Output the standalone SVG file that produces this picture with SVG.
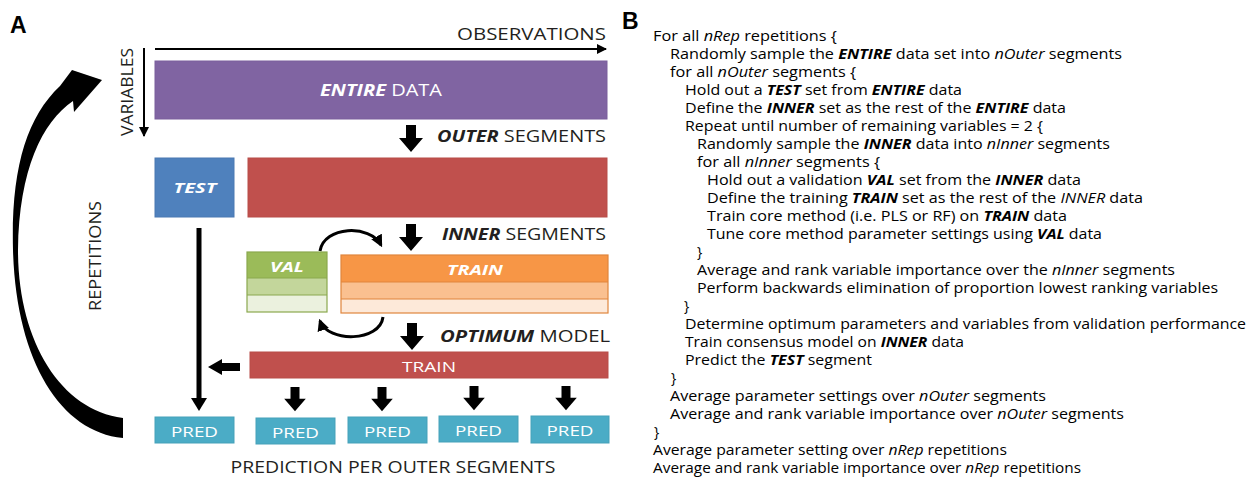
<svg xmlns="http://www.w3.org/2000/svg" width="1248" height="477" viewBox="0 0 1248 477">
<defs>
<style>
.lbl{font-family:"Open Sans","DejaVu Sans",sans-serif;fill:#231f20;}
.w{fill:#ffffff;}
.bi{font-weight:bold;font-style:italic;}
.i{font-style:italic;}
.code{font-family:"Open Sans","DejaVu Sans",sans-serif;font-size:14px;fill:#000;}
.panel{font-family:"Liberation Sans",Arial,sans-serif;font-weight:bold;font-size:23px;fill:#000;}
.thin{stroke:#000;stroke-width:2;fill:none;}
.curve{stroke:#000;stroke-width:3;fill:none;}
.blk{fill:#000;}
</style>
<marker id="ah" viewBox="0 0 10 10" refX="9" refY="5" markerWidth="5" markerHeight="5" orient="auto" markerUnits="strokeWidth">
<path d="M0,0 L10,5 L0,10 Z" fill="#000"/>
</marker>
<marker id="ah2" viewBox="0 0 10 10" refX="8" refY="5" markerWidth="4" markerHeight="4" orient="auto" markerUnits="strokeWidth">
<path d="M0,0 L10,5 L0,10 Z" fill="#000"/>
</marker>
<path id="down" d="M-5,0 H5 V13 H12 L0,27 L-12,13 H-5 Z"/>
</defs>
<rect width="1248" height="477" fill="#fff"/>

<text class="panel" x="10" y="33">A</text>
<text class="panel" x="622" y="29">B</text>

<!-- axis labels -->
<g id="axes">
<text class="lbl" x="606" y="40" font-size="17" text-anchor="end" textLength="149" lengthAdjust="spacingAndGlyphs">OBSERVATIONS</text>
<text class="lbl" font-size="16" text-anchor="middle" transform="translate(133,92) rotate(-90)" textLength="88" lengthAdjust="spacingAndGlyphs">VARIABLES</text>
<text class="lbl" font-size="16" text-anchor="middle" transform="translate(101,256) rotate(-90)" textLength="110" lengthAdjust="spacingAndGlyphs">REPETITIONS</text>
</g>

<g id="entire">
<rect x="155" y="61" width="452" height="58" fill="#8064a2" stroke="#7a5f9c" stroke-width="1"/>
<text class="lbl w" x="381" y="96" font-size="16" text-anchor="middle" textLength="122" lengthAdjust="spacingAndGlyphs"><tspan class="bi">ENTIRE</tspan> DATA</text>
</g>

<g id="outer-label">
<text class="lbl" x="606" y="142" font-size="16" text-anchor="end" textLength="169" lengthAdjust="spacingAndGlyphs"><tspan class="bi">OUTER</tspan> SEGMENTS</text>
</g>

<g id="test">
<rect x="155" y="158" width="79" height="59" fill="#4f81bd" stroke="#4a79b2" stroke-width="1"/>
<text class="lbl w bi" x="195" y="193" font-size="15" text-anchor="middle" textLength="43" lengthAdjust="spacingAndGlyphs">TEST</text>
</g>

<g id="inner">
<rect x="248" y="158" width="359" height="59" fill="#c0504d" stroke="#b84c49" stroke-width="1"/>
</g>

<g id="inner-label">
<text class="lbl" x="606" y="240" font-size="16" text-anchor="end" textLength="164" lengthAdjust="spacingAndGlyphs"><tspan class="bi">INNER</tspan> SEGMENTS</text>
</g>

<g id="val">
<rect x="247" y="252" width="80" height="26" fill="#9bbb59"/>
<rect x="247" y="278" width="80" height="17" fill="#c3d69b"/>
<rect x="247" y="295" width="80" height="17" fill="#ebf1de"/>
<path d="M247,278 H327 M247,295 H327" stroke="#8aa84e" stroke-width="1"/>
<rect x="247" y="252" width="80" height="60" fill="none" stroke="#8aa84e" stroke-width="1.2"/>
<text class="lbl w bi" x="287" y="272" font-size="15" text-anchor="middle" textLength="34" lengthAdjust="spacingAndGlyphs">VAL</text>
</g>

<g id="train-inner">
<rect x="341" y="255" width="267" height="27" fill="#f79646"/>
<rect x="341" y="282" width="267" height="17" fill="#fac090"/>
<rect x="341" y="299" width="267" height="14" fill="#fde9d9"/>
<path d="M341,282 H608 M341,299 H608" stroke="#e0853c" stroke-width="1"/>
<rect x="341" y="255" width="267" height="58" fill="none" stroke="#e0853c" stroke-width="1.2"/>
<text class="lbl w bi" x="475" y="275" font-size="15" text-anchor="middle" textLength="56" lengthAdjust="spacingAndGlyphs">TRAIN</text>
</g>

<g id="optimum-label">
<text class="lbl" x="610" y="342" font-size="16" text-anchor="end" textLength="170" lengthAdjust="spacingAndGlyphs"><tspan class="bi">OPTIMUM</tspan> MODEL</text>
</g>

<g id="train-final">
<rect x="250" y="352" width="358" height="26" fill="#c0504d" stroke="#b84c49" stroke-width="1"/>
<text class="lbl w" x="429" y="372" font-size="15" text-anchor="middle" textLength="54" lengthAdjust="spacingAndGlyphs">TRAIN</text>
</g>

<g id="pred1"><rect x="155" y="417" width="79" height="26" fill="#4bacc6" stroke="#46a1b9"/><text class="lbl w" x="194.5" y="437" font-size="15" text-anchor="middle" textLength="47" lengthAdjust="spacingAndGlyphs">PRED</text></g>
<g id="pred2"><rect x="256" y="418" width="79" height="26" fill="#4bacc6" stroke="#46a1b9"/><text class="lbl w" x="295.5" y="438" font-size="15" text-anchor="middle" textLength="47" lengthAdjust="spacingAndGlyphs">PRED</text></g>
<g id="pred3"><rect x="348" y="417" width="79" height="26" fill="#4bacc6" stroke="#46a1b9"/><text class="lbl w" x="387.5" y="437" font-size="15" text-anchor="middle" textLength="47" lengthAdjust="spacingAndGlyphs">PRED</text></g>
<g id="pred4"><rect x="439" y="416" width="79" height="26" fill="#4bacc6" stroke="#46a1b9"/><text class="lbl w" x="478.5" y="436" font-size="15" text-anchor="middle" textLength="47" lengthAdjust="spacingAndGlyphs">PRED</text></g>
<g id="pred5"><rect x="531" y="416" width="78" height="27" fill="#4bacc6" stroke="#46a1b9"/><text class="lbl w" x="570" y="436" font-size="15" text-anchor="middle" textLength="47" lengthAdjust="spacingAndGlyphs">PRED</text></g>

<g id="footer">
<text class="lbl" x="393" y="473" font-size="16" text-anchor="middle" textLength="325" lengthAdjust="spacingAndGlyphs">PREDICTION PER OUTER SEGMENTS</text>
</g>

<g id="connectors">
<line class="thin" x1="155" y1="49" x2="606" y2="49" marker-end="url(#ah)"/>
<line class="thin" x1="144" y1="48" x2="144" y2="136" marker-end="url(#ah)"/>
<use href="#down" x="411" y="125" class="blk"/>
<use href="#down" x="411" y="224" class="blk"/>
<use href="#down" x="412" y="323" class="blk"/>
<use href="#down" transform="translate(295,387) scale(0.9)" class="blk"/>
<use href="#down" transform="translate(382,387) scale(0.9)" class="blk"/>
<use href="#down" transform="translate(474,386) scale(0.9)" class="blk"/>
<use href="#down" transform="translate(566,386) scale(0.9)" class="blk"/>
<path class="blk" d="M240,363 H222 V359 L208,367 L222,375 V371 H240 Z"/>
<line x1="199" y1="228" x2="199" y2="400" stroke="#000" stroke-width="5"/>
<path class="blk" d="M191,398 H207 L199,411 Z"/>
<path class="curve" d="M320,251 C324,226 370,224 381,245" marker-end="url(#ah2)"/>
<path class="curve" d="M383,317 C380,342 328,343 320,321" marker-end="url(#ah2)"/>
<path class="blk" d="M123,438 C60,432 16,360 13,250 C11,170 26,118 60,86 L72,70 L102,80 L74,112 L73,101 C42,122 19,170 18,250 C18,340 60,410 123,418 Z"/>
</g>

<g id="pseudocode" class="code">
<text x="653" y="41" textLength="184" lengthAdjust="spacingAndGlyphs">For all <tspan class="i">nRep</tspan> repetitions {</text>
<text x="670" y="59" textLength="452" lengthAdjust="spacingAndGlyphs">Randomly sample the <tspan class="bi">ENTIRE</tspan> data set into <tspan class="i">nOuter</tspan> segments</text>
<text x="670" y="77" textLength="186" lengthAdjust="spacingAndGlyphs">for all <tspan class="i">nOuter</tspan> segments {</text>
<text x="685" y="95" textLength="277" lengthAdjust="spacingAndGlyphs">Hold out a <tspan class="bi">TEST</tspan> set from <tspan class="bi">ENTIRE</tspan> data</text>
<text x="685" y="113" textLength="381" lengthAdjust="spacingAndGlyphs">Define the <tspan class="bi">INNER</tspan> set as the rest of the <tspan class="bi">ENTIRE</tspan> data</text>
<text x="685" y="131" textLength="358" lengthAdjust="spacingAndGlyphs">Repeat until number of remaining variables = 2 {</text>
<text x="697" y="149" textLength="413" lengthAdjust="spacingAndGlyphs">Randomly sample the <tspan class="bi">INNER</tspan> data into <tspan class="i">nInner</tspan> segments</text>
<text x="697" y="167" textLength="183" lengthAdjust="spacingAndGlyphs">for all <tspan class="i">nInner</tspan> segments {</text>
<text x="707" y="185" textLength="374" lengthAdjust="spacingAndGlyphs">Hold out a validation <tspan class="bi">VAL</tspan> set from the <tspan class="bi">INNER</tspan> data</text>
<text x="707" y="203" textLength="436" lengthAdjust="spacingAndGlyphs">Define the training <tspan class="bi">TRAIN</tspan> set as the rest of the <tspan class="i">INNER</tspan> data</text>
<text x="707" y="221" textLength="360" lengthAdjust="spacingAndGlyphs">Train core method (i.e. PLS or RF) on <tspan class="bi">TRAIN</tspan> data</text>
<text x="707" y="239" textLength="395" lengthAdjust="spacingAndGlyphs">Tune core method parameter settings using <tspan class="bi">VAL</tspan> data</text>
<text x="697" y="257">}</text>
<text x="697" y="275" textLength="478" lengthAdjust="spacingAndGlyphs">Average and rank variable importance over the <tspan class="i">nInner</tspan> segments</text>
<text x="697" y="293" textLength="521" lengthAdjust="spacingAndGlyphs">Perform backwards elimination of proportion lowest ranking variables</text>
<text x="684" y="311">}</text>
<text x="685" y="329" textLength="561" lengthAdjust="spacingAndGlyphs">Determine optimum parameters and variables from validation performance</text>
<text x="685" y="347" textLength="279" lengthAdjust="spacingAndGlyphs">Train consensus model on <tspan class="bi">INNER</tspan> data</text>
<text x="685" y="365" textLength="187" lengthAdjust="spacingAndGlyphs">Predict the <tspan class="bi">TEST</tspan> segment</text>
<text x="671" y="383">}</text>
<text x="670" y="401" textLength="376" lengthAdjust="spacingAndGlyphs">Average parameter settings over <tspan class="i">nOuter</tspan> segments</text>
<text x="670" y="419" textLength="454" lengthAdjust="spacingAndGlyphs">Average and rank variable importance over <tspan class="i">nOuter</tspan> segments</text>
<text x="654" y="437">}</text>
<text x="653" y="455" textLength="354" lengthAdjust="spacingAndGlyphs">Average parameter setting over <tspan class="i">nRep</tspan> repetitions</text>
<text x="653" y="473" textLength="428" lengthAdjust="spacingAndGlyphs">Average and rank variable importance over <tspan class="i">nRep</tspan> repetitions</text>
</g>
</svg>
